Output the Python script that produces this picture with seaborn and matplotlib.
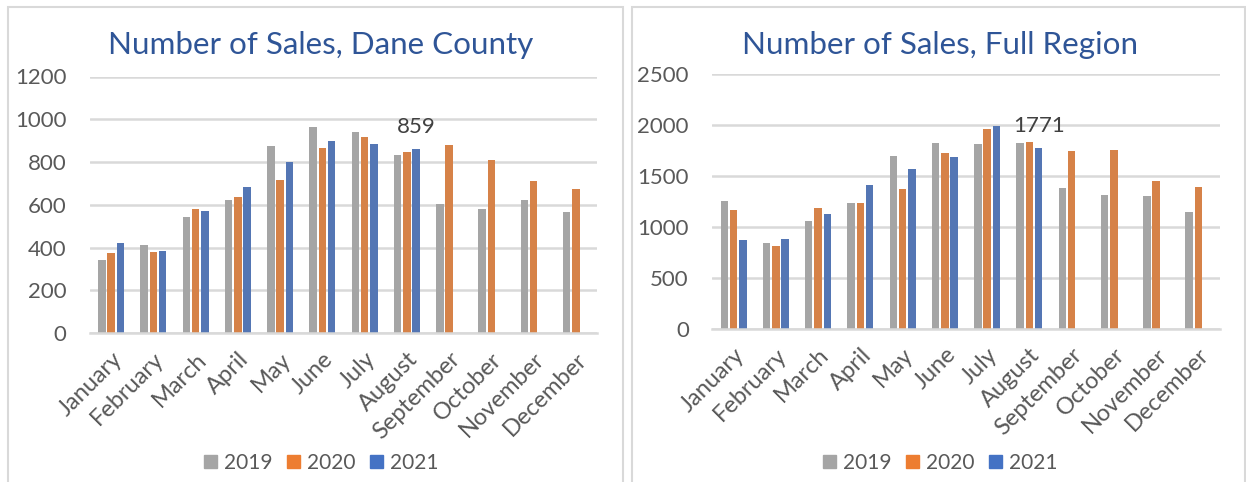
import numpy as np
import pandas as pd
import seaborn as sns
import matplotlib.pyplot as plt
from matplotlib.patches import Patch, Rectangle

# data
months = ["January", "February", "March", "April", "May", "June", "July",
          "August", "September", "October", "November", "December"]
years = ["2019", "2020", "2021"]

dane_2019 = [344, 414, 545, 623, 875, 966, 942, 833, 604, 580, 621, 567]
dane_2020 = [374, 380, 581, 637, 717, 866, 917, 847, 878, 812, 713, 674]
dane_2021 = [424, 386, 572, 682, 799, 899, 886, 859]

region_2019 = [1252, 843, 1059, 1239, 1696, 1820, 1817, 1820, 1382, 1317, 1304, 1147]
region_2020 = [1170, 817, 1186, 1235, 1369, 1729, 1958, 1837, 1742, 1758, 1454, 1392]
region_2021 = [869, 879, 1131, 1415, 1569, 1683, 1987, 1771]

palette = {"2019": "#A5A5A5", "2020": "#ED7D31", "2021": "#4472C4"}


def to_long(s19, s20, s21):
    rows = []
    for year, vals in zip(years, [s19, s20, s21]):
        for m, v in zip(months, vals):
            rows.append({"month": m, "year": year, "sales": v})
    return pd.DataFrame(rows)


sns.set_style("white")
plt.rcParams["font.family"] = ["Lato", "DejaVu Sans"]

W, H = 1246, 482
fig = plt.figure(figsize=(W / 100, H / 100), dpi=100)

# chart frames
for x0, x1 in [(8, 623), (632, 1245)]:
    fig.patches.append(Rectangle((x0 / W, -0.05), (x1 - x0) / W, 1.05 - 7 / H,
                                 transform=fig.transFigure, fill=False,
                                 ec="#D9D9D9", lw=1.5))

panels = [
    dict(df=to_long(dane_2019, dane_2020, dane_2021), rect=(90, 333.3, 507, 256.8),
         ymax=1200, step=200, title="Number of Sales, Dane County", label="859",
         cx=321),
    dict(df=to_long(region_2019, region_2020, region_2021), rect=(712.4, 328.7, 507.2, 254.5),
         ymax=2500, step=500, title="Number of Sales, Full Region", label="1771",
         cx=940),
]

grid_c = "#D9D9D9"
text_c = "#595959"

for p in panels:
    x, yb, w, h = p["rect"]
    ax = fig.add_axes([x / W, 1 - yb / H, w / W, h / H])
    sns.barplot(data=p["df"], x="month", y="sales", hue="year", order=months,
                hue_order=years, palette=palette, width=0.66, gap=0.2,
                linewidth=0, legend=False, ax=ax)
    ax.set_ylim(0, p["ymax"])
    ax.set_yticks(np.arange(0, p["ymax"] + 1, p["step"]))
    ax.set_xlim(-0.5, 11.5)
    ax.set_xlabel("")
    ax.set_ylabel("")
    ax.set_axisbelow(True)
    ax.grid(axis="y", color=grid_c, lw=1.8)
    for s in ["top", "left", "right"]:
        ax.spines[s].set_visible(False)
    ax.spines["bottom"].set_color(grid_c)
    ax.spines["bottom"].set_linewidth(1.8)
    ax.tick_params(axis="y", length=0, pad=17, labelsize=16, labelcolor=text_c)
    ax.tick_params(axis="x", length=0, pad=11, labelsize=17, labelcolor=text_c)
    plt.setp(ax.get_xticklabels(), rotation=45, ha="right", rotation_mode="anchor")

    # label on the latest August bar
    bar = ax.containers[2][7]
    ax.annotate(p["label"], xy=(bar.get_x() + bar.get_width() / 2, bar.get_height()),
                xytext=(0, 9), textcoords="offset points", ha="center", va="bottom",
                fontsize=16, color="#404040")

    fig.text(p["cx"] / W, 1 - 45 / H, p["title"], ha="center", va="center",
             fontsize=22.6, color="#2F5597")

    handles = [Patch(color=palette[y]) for y in years]
    fig.legend(handles, years, loc="center", bbox_to_anchor=(p["cx"] / W, 1 - 463 / H),
               ncol=3, frameon=False, fontsize=15, labelcolor=text_c,
               handlelength=0.63, handleheight=0.63, handletextpad=0.34,
               columnspacing=0.68)

fig.savefig("out.png", dpi=100)
